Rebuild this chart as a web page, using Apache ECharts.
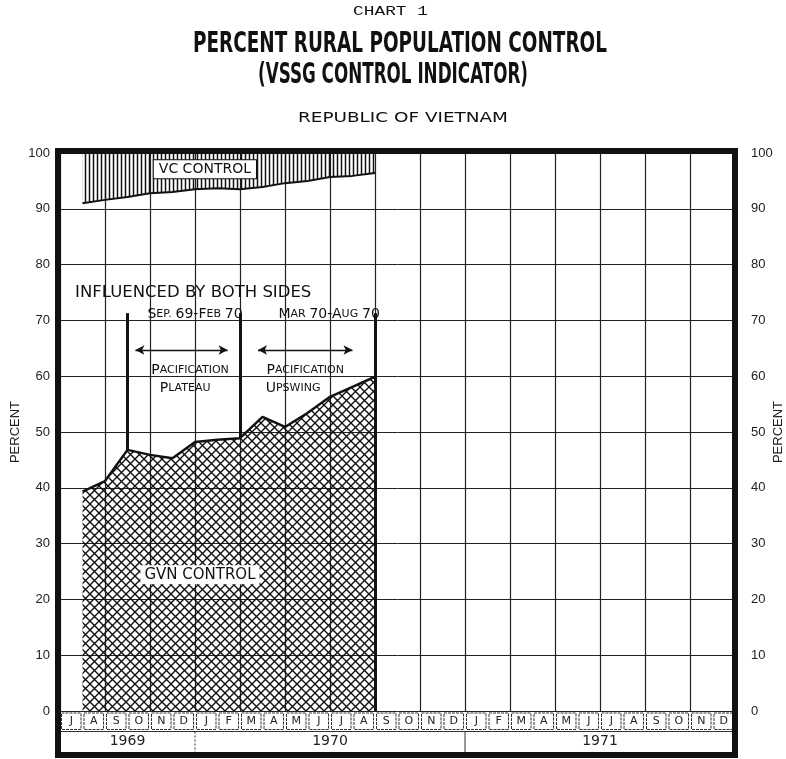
<!DOCTYPE html>
<html>
<head>
<meta charset="utf-8">
<script src="https://cdn.jsdelivr.net/npm/echarts@6/dist/echarts.min.js"></script>
<style>
html, body { margin: 0; padding: 0; background: #fff; }
#chart { width: 786px; height: 759px; }
</style>
</head>
<body>
<div id="chart"></div>
<script>
// month initials of the bottom strip, Jul 1969 .. Dec 1971
var months = ['J','A','S','O','N','D',
	'J','F','M','A','M','J','J','A','S','O','N','D',
	'J','F','M','A','M','J','J','A','S','O','N','D'];
var yearLabels = ['1969', '1970', '1971'];
var yearStart = [0, 6, 18];
var yearEnd = [6, 18, 30];

// readings sit on month ends (1 = end of Jul 69 ... 14 = end of Aug 70)
var pointMonth = [1, 2, 3, 4, 5, 6, 7, 8, 9, 10, 11, 12, 13, 14];
var gvnControl = [39.3, 41.2, 46.8, 45.9, 45.3, 48.2, 48.6, 48.9, 52.7, 50.9, 53.4, 56.3, 58.1, 59.9];
var vcEdge = [91.0, 91.6, 92.1, 92.8, 93.0, 93.5, 93.7, 93.5, 93.9, 94.6, 95.0, 95.7, 95.9, 96.4];

// period markers: Sep 69, Feb 70, Aug 70
var periodMonth = [3, 8, 14];
var periodTop = 71.3;
// arrows above "pacification" notes
var arrowFrom = [3.35, 8.8];
var arrowTo = [7.45, 13.0];
var arrowLevel = 64.7;

var INK = '#111';
var SANS = '"DejaVu Sans", "Liberation Sans", sans-serif';

// hatch patterns
function makeHatch(w, h, draw) {
	var c = document.createElement('canvas');
	c.width = w; c.height = h;
	var g = c.getContext('2d');
	g.strokeStyle = INK;
	draw(g, w, h);
	return { image: c, repeat: 'repeat' };
}
var crossHatch = makeHatch(9, 9, function(g, w, h) {
	g.lineWidth = 1.4;
	g.beginPath();
	g.moveTo(-1, -1); g.lineTo(w + 1, h + 1);
	g.moveTo(w + 1, -1); g.lineTo(-1, h + 1);
	g.stroke();
});
var vertHatch = makeHatch(4, 4, function(g, w, h) {
	g.lineWidth = 1.5;
	g.beginPath();
	g.moveTo(1.5, 0); g.lineTo(1.5, h);
	g.stroke();
});

// stretch title text to the width it has in the original
var mctx = document.createElement('canvas').getContext('2d');
function fitText(text, font, left, top, width, scaleY) {
	mctx.font = font;
	var sx = width / mctx.measureText(text).width;
	return {
		type: 'text', x: left, y: top, scaleX: sx, scaleY: scaleY || 1,
		style: { text: text, font: font, fill: INK, align: 'left', verticalAlign: 'middle' }
	};
}

function valueAt(m) {
	return gvnControl[pointMonth.indexOf(m)];
}

var gvnData = pointMonth.map(function(m, i) { return [m, gvnControl[i]]; });
var vcData = pointMonth.map(function(m, i) { return [m, vcEdge[i]]; });

var periodLines = periodMonth.map(function(m, i) {
	var bottom = i == periodMonth.length - 1 ? 0 : valueAt(m);
	return [{ coord: [m, periodTop] }, { coord: [m, bottom] }];
});
var arrowLines = arrowFrom.map(function(a, i) {
	return [{ coord: [a, arrowLevel] }, { coord: [arrowTo[i], arrowLevel] }];
});

var smallCaps = {
	b: { fontSize: 14, fontFamily: SANS, color: INK },
	s: { fontSize: 11, fontFamily: SANS, color: INK }
};
function note(coord, text, extra) {
	var label = { formatter: text };
	for (var k in extra) label[k] = extra[k];
	return { coord: coord, label: label };
}

var axisFont = { fontSize: 13, color: '#222', fontFamily: '"Liberation Sans", sans-serif' };

var chart = echarts.init(document.getElementById('chart'));
chart.setOption({
	backgroundColor: '#fff',
	animation: false,
	grid: [
		{ left: 60, right: 51, top: 153, bottom: 48, outerBoundsMode: 'none', containLabel: false },
		{ left: 60, right: 51, top: 711, bottom: 7, outerBoundsMode: 'none', containLabel: false }
	],
	xAxis: [
		{
			type: 'value', gridIndex: 0, min: 0, max: 30, interval: 2,
			axisLine: { show: false }, axisTick: { show: false }, axisLabel: { show: false },
			splitLine: { show: true, lineStyle: { color: '#222', width: 1.2 } }
		},
		{ type: 'value', gridIndex: 1, min: 0, max: 30, show: false }
	],
	yAxis: [
		{
			type: 'value', gridIndex: 0, min: 0, max: 100, interval: 10, position: 'left',
			axisLine: { show: false }, axisTick: { show: false },
			axisLabel: { margin: 10, fontSize: 13, color: '#222', fontFamily: '"Liberation Sans", sans-serif' },
			splitLine: { show: true, lineStyle: { color: '#222', width: 1 } },
			name: 'PERCENT', nameLocation: 'middle', nameRotate: 90, nameGap: 38, nameMoveOverlap: false,
			nameTextStyle: axisFont
		},
		{
			type: 'value', gridIndex: 0, min: 0, max: 100, interval: 10, position: 'right',
			axisLine: { show: false }, axisTick: { show: false },
			axisLabel: { margin: 16, fontSize: 13, color: '#222', fontFamily: '"Liberation Sans", sans-serif' },
			splitLine: { show: false },
			name: 'PERCENT', nameLocation: 'middle', nameRotate: 90, nameGap: 37, nameMoveOverlap: false,
			nameTextStyle: axisFont
		},
		{ type: 'value', gridIndex: 1, min: 0, max: 2, show: false }
	],
	graphic: [
		fitText('CHART 1', '13px "Liberation Mono", monospace', 353, 12, 75),
		fitText('PERCENT RURAL POPULATION CONTROL', 'bold 26px "Liberation Sans Narrow", "DejaVu Sans Condensed", sans-serif', 193, 45, 414, 1.1),
		fitText('(VSSG CONTROL INDICATOR)', 'bold 26px "Liberation Sans Narrow", "DejaVu Sans Condensed", sans-serif', 258, 76, 270, 1.1),
		fitText('REPUBLIC OF VIETNAM', '14px "DejaVu Sans", sans-serif', 298, 118, 210),
		{
			type: 'rect', z: 100, silent: true,
			shape: { x: 58, y: 151, width: 677, height: 604 },
			style: { fill: 'none', stroke: INK, lineWidth: 6 }
		}
	],
	series: [
		{
			name: 'VC control', type: 'line', xAxisIndex: 0, yAxisIndex: 0,
			data: vcData, symbol: 'none', z: 3,
			lineStyle: { color: INK, width: 2 },
			areaStyle: { color: vertHatch, opacity: 1, origin: 'end' },
			markLine: {
				silent: true, symbol: ['arrow', 'arrow'], symbolSize: [7, 9],
				label: { show: false },
				lineStyle: { color: INK, width: 1.3, type: 'solid' },
				data: arrowLines
			},
			markPoint: {
				silent: true, symbol: 'circle', symbolSize: 1,
				itemStyle: { color: 'rgba(0,0,0,0)' },
				label: { show: true, position: 'inside', color: INK, fontFamily: SANS, rich: smallCaps },
				data: [
					note([6.44, 97.1], 'VC CONTROL', { fontSize: 14, backgroundColor: '#fff', borderColor: INK, borderWidth: 1, padding: [2, 5] }),
					note([0.67, 74.9], 'INFLUENCED BY BOTH SIDES', { fontSize: 16.5, align: 'left' }),
					note([6.0, 71.1], '{b|S}{s|EP.} {b|69-F}{s|EB} {b|70}'),
					note([11.96, 71.1], '{b|M}{s|AR} {b|70-A}{s|UG} {b|70}'),
					note([5.78, 61.1], '{b|P}{s|ACIFICATION}'),
					note([5.56, 57.8], '{b|P}{s|LATEAU}'),
					note([10.9, 61.1], '{b|P}{s|ACIFICATION}'),
					note([10.36, 57.8], '{b|U}{s|PSWING}')
				]
			}
		},
		{
			name: 'GVN control', type: 'line', xAxisIndex: 0, yAxisIndex: 0,
			data: gvnData, symbol: 'none', z: 4,
			lineStyle: { color: INK, width: 2.5 },
			areaStyle: { color: crossHatch, opacity: 1, origin: 'start' },
			markLine: {
				silent: true, symbol: 'none',
				label: { show: false },
				lineStyle: { color: INK, width: 3, type: 'solid' },
				data: periodLines
			},
			markPoint: {
				silent: true, symbol: 'circle', symbolSize: 1,
				itemStyle: { color: 'rgba(0,0,0,0)' },
				label: { show: true, position: 'inside', color: INK, fontFamily: SANS, fontSize: 15, backgroundColor: '#fff', padding: [2, 4] },
				data: [note([6.22, 24.4], 'GVN CONTROL')]
			}
		},
		{
			name: 'months', type: 'custom', xAxisIndex: 1, yAxisIndex: 2, silent: true,
			data: months.map(function(m, i) { return [i]; }),
			renderItem: function(params, api) {
				var i = api.value(0);
				var tl = api.coord([i, 2]);
				var br = api.coord([i + 1, 1]);
				return {
					type: 'group',
					children: [
						{
							type: 'rect',
							shape: { x: tl[0] + 1.5, y: tl[1] + 2, width: br[0] - tl[0] - 3, height: br[1] - tl[1] - 4 },
							style: { fill: 'none', stroke: '#333', lineWidth: 1, lineDash: [3, 1] }
						},
						{
							type: 'text',
							x: (tl[0] + br[0]) / 2, y: (tl[1] + br[1]) / 2,
							style: { text: months[params.dataIndex], fontSize: 11, fontFamily: SANS, fill: '#222', align: 'center', verticalAlign: 'middle' }
						}
					]
				};
			}
		},
		{
			name: 'years', type: 'custom', xAxisIndex: 1, yAxisIndex: 2, silent: true,
			data: yearLabels.map(function(y, i) { return [yearStart[i], yearEnd[i]]; }),
			renderItem: function(params, api) {
				var s = api.value(0), e = api.value(1);
				var a = api.coord([s, 1]);
				var b = api.coord([e, 0]);
				var kids = [
					{ type: 'line', shape: { x1: a[0], y1: a[1], x2: b[0], y2: a[1] }, style: { stroke: '#333', lineWidth: 1 } },
					{
						type: 'text', x: (a[0] + b[0]) / 2, y: (a[1] + b[1]) / 2,
						style: { text: yearLabels[params.dataIndex], fontSize: 14, fontFamily: SANS, fill: '#222', align: 'center', verticalAlign: 'middle' }
					}
				];
				if (s > 0) {
					kids.push({
						type: 'line', shape: { x1: a[0], y1: a[1], x2: a[0], y2: b[1] },
						style: { stroke: '#333', lineWidth: 1, lineDash: params.dataIndex == 1 ? [2, 2] : null }
					});
				}
				return { type: 'group', children: kids };
			}
		}
	]
});
</script>
</body>
</html>
